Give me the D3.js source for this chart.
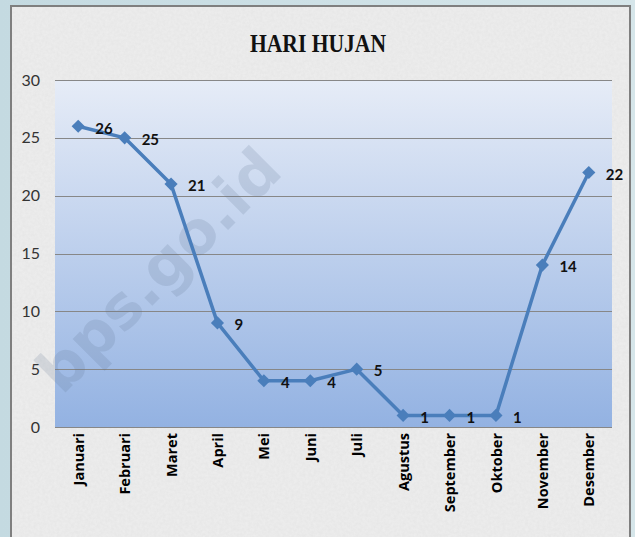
<!DOCTYPE html>
<html>
<head>
<meta charset="utf-8">
<script src="https://cdn.jsdelivr.net/npm/d3@7"></script>
<style>
  body { margin: 0; background: #cbdfe5; }
  svg { display: block; }
</style>
</head>
<body>
<div id="chart"></div>
<script>
//
// Data
//
var months = ["Januari", "Februari", "Maret", "April", "Mei", "Juni", "Juli",
              "Agustus", "September", "Oktober", "November", "Desember"];
var hariHujan = [26, 25, 21, 9, 4, 4, 5, 1, 1, 1, 14, 22];
var yTicks = [0, 5, 10, 15, 20, 25, 30];

//
// Global Vars
//
var width = 635, height = 537;
var plot = {left: 55, right: 612, top: 80, bottom: 427};

var svg = d3.select("#chart").append("svg")
    .attr("width", width)
    .attr("height", height);

var defs = svg.append("defs");

// paper texture
var f = defs.append("filter").attr("id", "paper")
    .attr("x", 0).attr("y", 0).attr("width", "100%").attr("height", "100%");
f.append("feTurbulence").attr("type", "fractalNoise")
    .attr("baseFrequency", 0.35).attr("numOctaves", 2).attr("seed", 3);
f.append("feColorMatrix").attr("type", "matrix")
    .attr("values", "0 0 0 0 0.55  0 0 0 0 0.55  0 0 0 0 0.55  0 0 0 0.55 0");
f.append("feComposite").attr("in2", "SourceGraphic").attr("operator", "in");

var grad = defs.append("linearGradient").attr("id", "plotbg")
    .attr("x1", 0).attr("y1", 0).attr("x2", 0).attr("y2", 1);
grad.append("stop").attr("offset", "0%").attr("stop-color", "#e6ecf7");
grad.append("stop").attr("offset", "100%").attr("stop-color", "#93b2e2");

var bgGrad = defs.append("linearGradient").attr("id", "outerbg")
    .attr("x1", 0).attr("y1", 0).attr("x2", 1).attr("y2", 0);
bgGrad.append("stop").attr("offset", "0%").attr("stop-color", "#c4dae1");
bgGrad.append("stop").attr("offset", "100%").attr("stop-color", "#d6e6ea");

svg.append("rect").attr("width", width).attr("height", height)
    .attr("fill", "url(#outerbg)");

// frame
svg.append("rect")
    .attr("x", 11).attr("y", 6)
    .attr("width", 619).attr("height", 540)
    .attr("fill", "#eeeeee")
    .attr("stroke", "#7f7f7f")
    .attr("stroke-width", 2);
svg.append("rect")
    .attr("x", 12).attr("y", 7)
    .attr("width", 617).attr("height", 540)
    .attr("fill", "#eeeeee")
    .attr("filter", "url(#paper)")
    .attr("opacity", 0.35);

//
// Scales
//
var x = d3.scalePoint().domain(months).range([plot.left, plot.right]).padding(0.5);
var y = d3.scaleLinear().domain([0, 30]).range([plot.bottom, plot.top]);

// plot area
svg.append("rect")
    .attr("x", plot.left).attr("y", plot.top)
    .attr("width", plot.right - plot.left)
    .attr("height", plot.bottom - plot.top)
    .attr("fill", "url(#plotbg)");

// gridlines
svg.append("g")
    .selectAll("line")
    .data(yTicks)
    .enter().append("line")
    .attr("x1", plot.left).attr("x2", plot.right)
    .attr("y1", function(d) { return Math.round(y(d)) + 0.5; })
    .attr("y2", function(d) { return Math.round(y(d)) + 0.5; })
    .attr("stroke", "#878787")
    .attr("stroke-width", 1);

// y axis
var yAxis = svg.append("g")
    .attr("transform", "translate(" + plot.left + ",0)")
    .call(d3.axisLeft(y).tickValues(yTicks).tickSize(0).tickPadding(15));
yAxis.select(".domain").remove();
yAxis.selectAll("text")
    .attr("font-family", "Lato, 'Open Sans', sans-serif")
    .attr("font-size", 16)
    .attr("fill", "#333333");

// x axis labels
var xAxis = svg.append("g")
    .attr("transform", "translate(0," + plot.bottom + ")")
    .call(d3.axisBottom(x).tickSize(0).tickPadding(0));
xAxis.select(".domain").remove();
xAxis.selectAll("text")
    .attr("transform", "rotate(-90)")
    .attr("text-anchor", "end")
    .attr("x", -6)
    .attr("y", 0)
    .attr("dy", "0.35em")
    .attr("font-family", "'Open Sans', Lato, sans-serif")
    .attr("font-weight", "bold")
    .attr("font-size", 14.5)
    .attr("fill", "#000");

// watermark
svg.append("text")
    .attr("transform", "translate(62,396) rotate(-45)")
    .attr("font-family", "'DejaVu Sans', sans-serif")
    .attr("font-weight", "bold")
    .attr("font-size", 60)
    .attr("fill", "#5a6f8c")
    .attr("opacity", 0.17)
    .text("bps.go.id");

// line
var line = d3.line()
    .x(function(d, i) { return x(months[i]); })
    .y(function(d) { return y(d); });

svg.append("path")
    .datum(hariHujan)
    .attr("d", line)
    .attr("fill", "none")
    .attr("stroke", "#4a7ebb")
    .attr("stroke-width", 3.5)
    .attr("stroke-linejoin", "round");

// markers
svg.append("g")
    .selectAll("path")
    .data(hariHujan)
    .enter().append("path")
    .attr("d", d3.symbol().type(d3.symbolDiamond2).size(110))
    .attr("transform", function(d, i) {
        return "translate(" + x(months[i]) + "," + y(d) + ")";
    })
    .attr("fill", "#4a7ebb");

// data labels
svg.append("g")
    .selectAll("text")
    .data(hariHujan)
    .enter().append("text")
    .attr("x", function(d, i) { return x(months[i]) + 17; })
    .attr("y", function(d) { return y(d) + 2; })
    .attr("dy", "0.35em")
    .attr("font-family", "Lato, 'Open Sans', sans-serif")
    .attr("font-weight", "bold")
    .attr("font-size", 15)
    .attr("fill", "#111")
    .text(function(d) { return d; });

// title
svg.append("text")
    .attr("x", 318)
    .attr("y", 52)
    .attr("text-anchor", "middle")
    .attr("font-family", "'Liberation Serif', 'DejaVu Serif', serif")
    .attr("font-weight", "bold")
    .attr("font-size", 26)
    .attr("textLength", 136)
    .attr("lengthAdjust", "spacingAndGlyphs")
    .attr("fill", "#111")
    .text("HARI HUJAN");
</script>
</body>
</html>
